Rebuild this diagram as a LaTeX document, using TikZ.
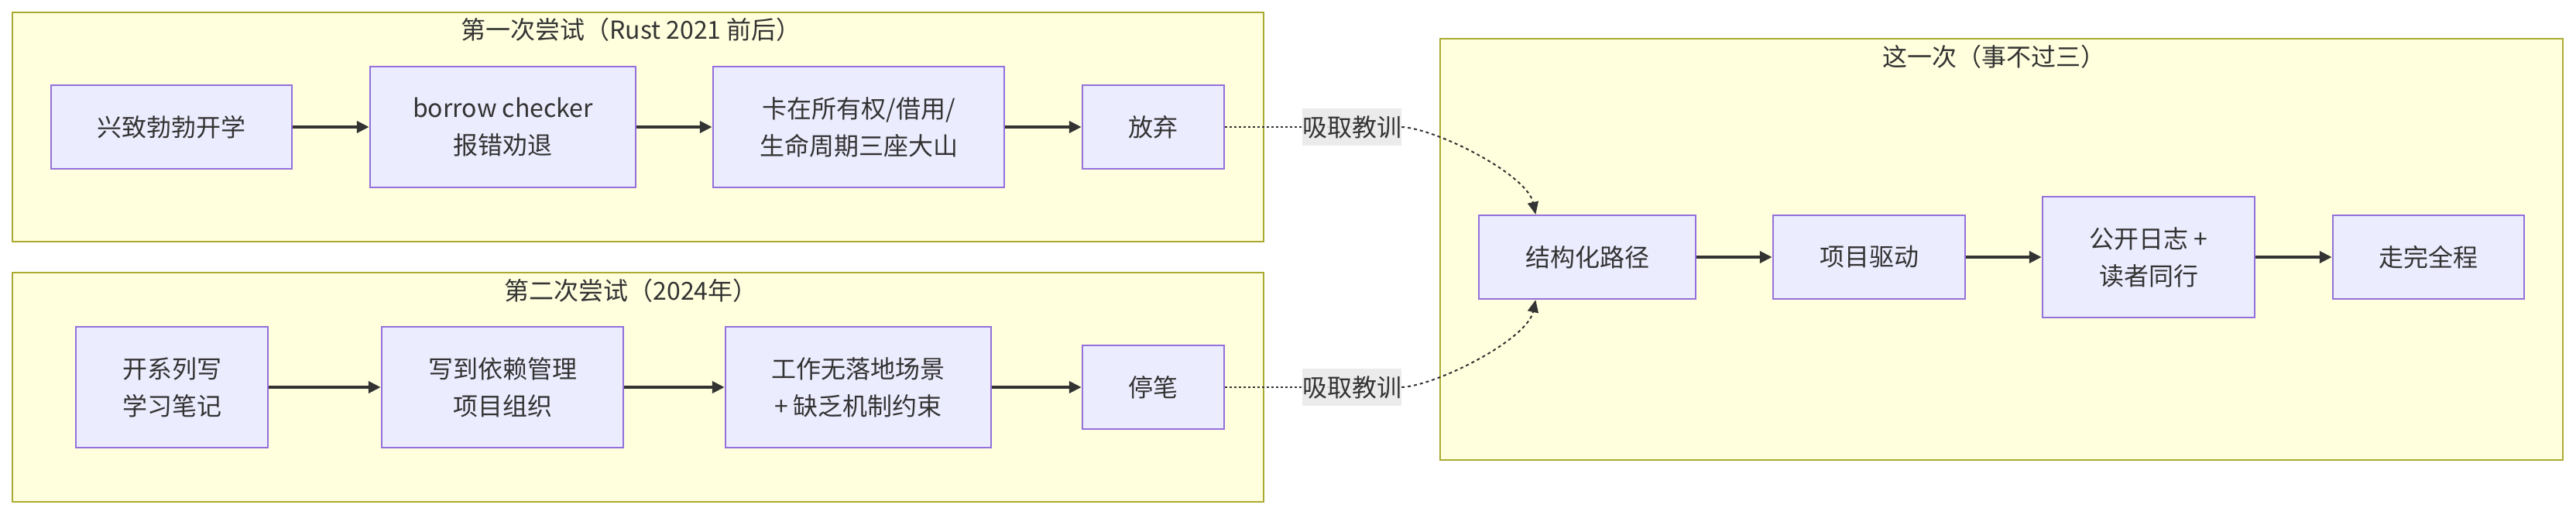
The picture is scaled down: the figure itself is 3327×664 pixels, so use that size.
\documentclass[tikz,border=0pt]{standalone}
\usepackage{fontspec}
\setmainfont{Noto Sans CJK SC}
\usetikzlibrary{arrows.meta,calc}
\definecolor{nodefill}{HTML}{ECECFF}
\definecolor{nodestroke}{HTML}{9370DB}
\definecolor{clfill}{HTML}{FFFFDE}
\definecolor{clstroke}{HTML}{AAAA33}
\definecolor{txt}{HTML}{333333}
\definecolor{lblbg}{HTML}{E8E8E8}
\begin{document}
\begin{tikzpicture}[x=1pt,y=-1pt,
  every node/.style={text=txt,font=\fontsize{32pt}{48pt}\selectfont},
  box/.style={draw=nodestroke,fill=nodefill,line width=2.5pt,inner sep=0pt,align=center},
  cluster/.style={draw=clstroke,fill=clfill,line width=2.5pt},
  cltitle/.style={inner sep=0pt},
  solidedge/.style={draw=txt,line width=4pt,-{Triangle[length=16pt,width=15pt]}},
  dotedge/.style={draw=txt,line width=2.5pt,dash pattern=on 3pt off 3pt},
  dotarrow/.style={draw=txt,line width=2pt,dash pattern=on 4pt off 4pt,-{Triangle[length=16pt,width=14pt]}},
  lbl/.style={fill=lblbg,fill opacity=0.85,text opacity=1,inner sep=0pt,minimum width=126pt,minimum height=48pt}
]
\useasboundingbox (0,0) rectangle (3327,664);
% clusters
\path[cluster] (16,16) rectangle (1632,312);
\path[cluster] (16,352) rectangle (1632,648);
\path[cluster] (1860,50) rectangle (3310,594);
\node[cltitle] (t1) at (815,38) {第一次尝试（Rust 2021 前后）};
\node[cltitle] (t2) at (815,375) {第二次尝试（2024年）};
\node[cltitle] (t3) at (2575,73) {这一次（事不过三）};
% first attempt
\node[box,minimum width=311pt,minimum height=108pt] (A) at (221.5,164) {兴致勃勃开学};
\node[box,minimum width=343pt,minimum height=156pt] (B) at (649.5,164) {borrow checker\\报错劝退};
\node[box,minimum width=376pt,minimum height=156pt] (C) at (1109,164) {卡在所有权/借用/\\生命周期三座大山};
\node[box,minimum width=183pt,minimum height=108pt] (D) at (1489.5,164) {放弃};
% second attempt
\node[box,minimum width=248pt,minimum height=156pt] (E) at (222,500) {开系列写\\学习笔记};
\node[box,minimum width=312pt,minimum height=156pt] (F) at (649,500) {写到依赖管理\\项目组织};
\node[box,minimum width=343pt,minimum height=156pt] (G) at (1108.5,500) {工作无落地场景\\+ 缺乏机制约束};
\node[box,minimum width=183pt,minimum height=108pt] (H) at (1489.5,500) {停笔};
% this time
\node[box,minimum width=280pt,minimum height=108pt] (I) at (2050,332) {结构化路径};
\node[box,minimum width=248pt,minimum height=108pt] (J) at (2414,332) {项目驱动};
\node[box,minimum width=274pt,minimum height=156pt] (K) at (2775,332) {公开日志 +\\读者同行};
\node[box,minimum width=247pt,minimum height=108pt] (L) at (3136.5,332) {走完全程};
% edges
\draw[solidedge] (A) -- (B);
\draw[solidedge] (B) -- (C);
\draw[solidedge] (C) -- (D);
\draw[solidedge] (E) -- (F);
\draw[solidedge] (F) -- (G);
\draw[solidedge] (G) -- (H);
\draw[solidedge] (I) -- (J);
\draw[solidedge] (J) -- (K);
\draw[solidedge] (K) -- (L);
% lessons
\coordinate (L1c) at (1746,164);
\coordinate (L2c) at (1746,500);
\draw[dotedge] (D.east) -- (L1c);
\draw[dotedge] (H.east) -- (L2c);
\node[lbl] (L1) at (L1c) {吸取教训};
\node[lbl] (L2) at (L2c) {吸取教训};
\coordinate (Itop) at ($(I.north west)!0.264!(I.north east)$);
\coordinate (Ibot) at ($(I.south west)!0.264!(I.south east)$);
\draw[dotarrow] (L1.east) .. controls (1855,166) and (1972,225) .. (Itop);
\draw[dotarrow] (L2.east) .. controls (1855,498) and (1972,439) .. (Ibot);
\end{tikzpicture}
\end{document}
